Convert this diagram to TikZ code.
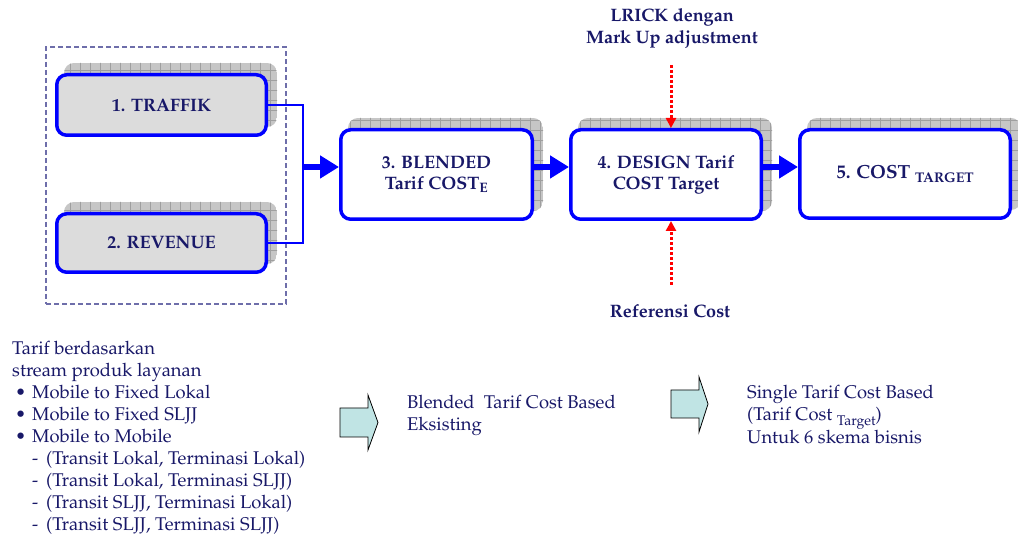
\documentclass[tikz,border=0pt]{standalone}
\usepackage[T1]{fontenc}
\usepackage{mathpazo}
\usetikzlibrary{arrows.meta,calc,backgrounds}

\definecolor{navy}{RGB}{24,24,104}
\definecolor{boxgray}{RGB}{220,220,220}
\definecolor{arrowfill}{RGB}{192,228,228}
\definecolor{framegray}{RGB}{110,110,170}

\tikzset{
  stagebox/.style={draw=blue, line width=3.5pt, rounded corners=10pt, text=navy,
    font=\bfseries\fontsize{18}{21}\selectfont, align=center, inner sep=2pt},
  inputbox/.style={stagebox, fill=boxgray},
  outputbox/.style={stagebox, fill=white},
  groupframe/.style={draw=framegray, dash pattern=on 5pt off 3pt, line width=1.2pt},
  feed/.style={draw=blue, line width=1.2pt},
  flow/.style={draw=blue, line width=6.5pt, -{Triangle[length=19pt,width=22pt]}},
  hint/.style={draw=red, line width=3pt, dash pattern=on 3pt off 2pt, -{Triangle[length=10pt,width=10pt]}},
  sidenote/.style={text=navy, font=\bfseries\fontsize{18}{22}\selectfont, align=center, inner sep=0pt},
  plaintext/.style={text=navy, font=\fontsize{18.4}{22}\selectfont, align=left, inner sep=0pt, anchor=north west},
  blockarrow/.style={fill=arrowfill, draw=black, line width=0.8pt},
}

% gray gridded drop shadow behind a stage box
\newcommand\gridshadow[1]{%
  \begin{scope}
    \clip[rounded corners=10pt] ($(#1.south west)+(9,-10)$) rectangle ($(#1.north east)+(9,-10)$);
    \fill[gray!45] ($(#1.south west)+(9,-10)$) rectangle ($(#1.north east)+(9,-10)$);
    \draw[gray!75, line width=0.5pt, step=10pt] ($(#1.south west)+(0,5)$) grid ($(#1.north east)+(20,-20)$);
  \end{scope}}

\begin{document}
\begin{tikzpicture}[x=1pt,y=-1pt]
  \useasboundingbox (0,0) rectangle (1018,534);

  % stage boxes
  \node[inputbox, minimum width=209.5, minimum height=60.5] (b1) at (161.5,105) {1. TRAFFIK};
  \node[inputbox, minimum width=209.5, minimum height=58.5] (b2) at (161.5,243) {2. REVENUE};
  \node[outputbox, minimum width=191.5, minimum height=89.5] (b3) at (436.5,174.5)
    {3. BLENDED\\Tarif COST\textsubscript{E}};
  \node[outputbox, minimum width=190.5, minimum height=89.5] (b4) at (666,174.5)
    {4. DESIGN Tarif\\COST Target};
  \node[outputbox, minimum width=210.5, minimum height=88.5] (b5) at (905,174)
    {\fontsize{19}{21}\selectfont 5. COST \raisebox{-4pt}{\fontsize{14}{14}\selectfont TARGET}};

  \begin{pgfonlayer}{background}
    \fill[white] (0,0) rectangle (1018,534);
    \gridshadow{b1}
    \gridshadow{b2}
    \gridshadow{b3}
    \gridshadow{b4}
    \gridshadow{b5}
  \end{pgfonlayer}

  % dashed frame around the two inputs
  \node[groupframe, minimum width=240, minimum height=257, inner sep=0pt] (grp) at (166,175.5) {};

  % inputs merge into the blended stage
  \coordinate (j) at (303,167);
  \draw[feed] (b1.east) -| (j);
  \draw[feed] (b2.east) -| (j);
  \draw[flow] (j) -- (j -| b3.west);
  \draw[flow] (b3.east |- j) -- (b4.west |- j);
  \draw[flow] (b4.east |- j) -- (b5.west |- j);

  % external references for the design stage
  \node[sidenote] (lrick) at (672,28) {LRICK dengan\\Mark Up adjustment};
  \node[sidenote] (refc) at (670,311) {Referensi Cost};
  \coordinate (lr) at (671,65);
  \coordinate (rf) at (671,285);
  \draw[hint] (lr) -- (lr |- b4.north);
  \draw[hint] (rf) -- (rf |- b4.south);

  % product streams
  \node[plaintext] (streams) at (12,341) {%
    Tarif berdasarkan\\
    stream produk layanan\\
    \hspace*{3pt}\makebox[17pt][l]{\textbullet}Mobile to Fixed Lokal\\
    \hspace*{3pt}\makebox[17pt][l]{\textbullet}Mobile to Fixed SLJJ\\
    \hspace*{3pt}\makebox[17pt][l]{\textbullet}Mobile to Mobile\\
    \hspace*{20pt}\makebox[14pt][l]{-}(Transit Lokal, Terminasi Lokal)\\
    \hspace*{20pt}\makebox[14pt][l]{-}(Transit Lokal, Terminasi SLJJ)\\
    \hspace*{20pt}\makebox[14pt][l]{-}(Transit SLJJ, Terminasi Lokal)\\
    \hspace*{20pt}\makebox[14pt][l]{-}(Transit SLJJ, Terminasi SLJJ)};

  % outcome arrows
  \draw[blockarrow] (340,408) -- (368,408) -- (368,395) -- (378,422.5) -- (368,450)
    -- (368,437) -- (340,437) -- cycle;
  \node[plaintext] (blended) at (407,395) {Blended\ \ Tarif Cost Based\\Eksisting};

  \draw[blockarrow] (671,390) -- (699,390) -- (699,377) -- (708,404) -- (699,432)
    -- (699,418) -- (671,418) -- cycle;
  \node[plaintext] (single) at (747,385) {Single Tarif Cost Based\\
    (Tarif Cost \raisebox{-5pt}{\fontsize{14}{14}\selectfont Target})\\
    Untuk 6 skema bisnis};
\end{tikzpicture}
\end{document}
